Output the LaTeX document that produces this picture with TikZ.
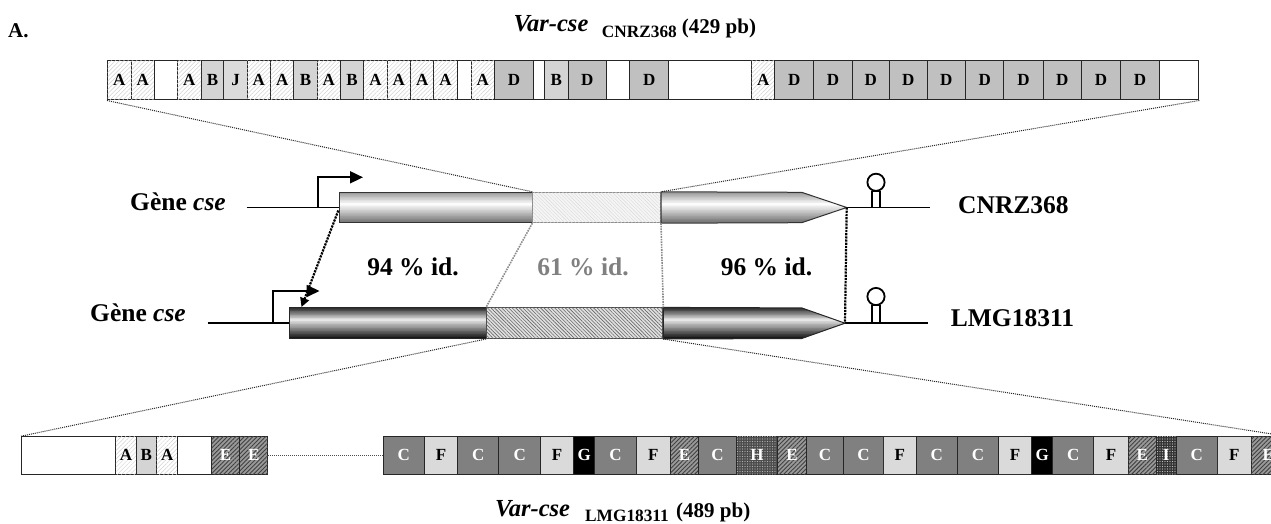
\documentclass[tikz,border=0pt]{standalone}
\usepackage{fontspec}
\setmainfont{Liberation Serif}
\usetikzlibrary{patterns.meta,arrows.meta}
\definecolor{cD}{HTML}{C0C0C0}
\definecolor{cC}{HTML}{808080}
\newcommand\gstrips[7]{%
 \foreach \k in {0,...,39}{%
  \pgfmathsetmacro\gt{(\k+0.5)/40}%
  \pgfmathsetmacro\gv{\gt<0.4 ? #5+(#6-#5)*\gt/0.4 : #6+(#7-#6)*(\gt-0.4)/0.6}%
  \pgfmathsetmacro\gya{#3+(#4-#3)*\k/40-0.25}%
  \pgfmathsetmacro\gyb{#3+(#4-#3)*(\k+1)/40+0.25}%
  \fill[black!\gv] (#1,\gya) rectangle (#2,\gyb);}}
\tikzset{
  cell/.style={draw=black!85, line width=1pt, inner sep=0pt, anchor=west, font=\fontsize{17}{20}\selectfont\bfseries},
  cW/.style={fill=white},
  cA/.style={fill=white, postaction={pattern={Lines[angle=45,distance=3pt,line width=.5pt]}, pattern color=black!18}},
  cB/.style={fill=black!14, postaction={pattern={Dots[distance=2pt,radius=.45pt]}, pattern color=black!45}},
  cJ/.style={fill=black!12, postaction={pattern={Dots[distance=2pt,radius=.4pt]}, pattern color=black!35}},
  cDD/.style={fill=cD},
  cCC/.style={fill=cC, text=white},
  cF/.style={fill=black!12, postaction={pattern={Dots[distance=2pt,radius=.45pt]}, pattern color=black!40}},
  cG/.style={fill=black, text=white},
  cE/.style={fill=black!40, text=white, postaction={pattern={Lines[angle=45,distance=3pt,line width=.9pt]}, pattern color=black!75}},
  cH/.style={fill=black!70, text=white, postaction={pattern={Dots[distance=2.5pt,radius=.6pt]}, pattern color=black!30}},
  cI/.style={fill=black!80, text=white, postaction={pattern={Dots[distance=2.5pt,radius=.6pt]}, pattern color=black!25}},
  gline/.style={line width=1.8pt, black},
  topvar/.style={fill=black!4, postaction={pattern={Lines[angle=-45,distance=2.5pt,line width=.4pt]}, pattern color=black!15}},
  botvar/.style={fill=black!12, postaction={pattern={Lines[angle=-45,distance=2.5pt,line width=.6pt]}, pattern color=black!60}},
  zoomdots/.style={densely dotted, line width=1pt, black!85},
  graydots/.style={densely dotted, line width=1.6pt, black!45},
  blackdots/.style={densely dotted, line width=2.2pt, black},
  big/.style={font=\fontsize{25.5}{30}\selectfont\bfseries},
}
\begin{document}
\begin{tikzpicture}[x=1pt,y=-1pt]
\clip (0,0) rectangle (1271,524);
\path[use as bounding box] (0,0) rectangle (1271,524);

% ---------- top bar ----------
\foreach \a/\b/\l/\s [count=\i] in {
 107/130.7/A/cA, 130.7/154/A/cA, 154/176.7//cW, 176.7/200.7/A/cA, 200.7/223.3/B/cB,
 223.3/246.7/J/cJ, 246.7/270/A/cA, 270/293.3/A/cA, 293.3/316.7/B/cB, 316.7/340/A/cA,
 340/363.3/B/cB, 363.3/386.7/A/cA, 386.7/410/A/cA, 410/433.3/A/cA, 433.3/456.7/A/cA,
 456.7/470.7//cW, 470.7/493.7/A/cA, 493.7/533.3/D/cDD, 533.3/544//cW, 544/567.7/B/cB,
 567.7/606/D/cDD, 606/629.3//cW, 629.3/668.3/D/cDD, 668.3/751//cW, 751/774.3/A/cA,
 774.3/813.3/D/cDD, 813.3/851.7/D/cDD, 851.7/889/D/cDD, 889/926.7/D/cDD, 926.7/965/D/cDD,
 965/1003.3/D/cDD, 1003.3/1042.7/D/cDD, 1042.7/1081/D/cDD, 1081/1120/D/cDD, 1120/1159/D/cDD,
 1159/1198.3//cW}
 {\node[cell,\s, minimum width={(\b-\a)*1pt}, minimum height=39.3pt] (t\i) at (\a,80.35) {\l};}

% ---------- bottom bar ----------
\foreach \a/\b/\l/\s [count=\i] in {
 21/115.3//cW, 115.3/135.7/A/cA, 135.7/156/B/cB, 156/177.3/A/cA, 177.3/211//cW,
 211/239.3/E/cE, 239.3/267.3/E/cE,
 382.7/424/C/cCC, 424/457.3/F/cF, 457.3/498.3/C/cCC, 498.3/540/C/cCC, 540/573.3/F/cF,
 573.3/594.3/G/cG, 594.3/635.7/C/cCC, 635.7/670/F/cF, 670/698.3/E/cE, 698.3/735.7/C/cCC,
 735.7/777.3/H/cH, 777.3/805.7/E/cE, 805.7/843.3/C/cCC, 843.3/882.7/C/cCC, 882.7/916/F/cF,
 916/956.7/C/cCC, 956.7/998.3/C/cCC, 998.3/1031/F/cF, 1031/1052.3/G/cG, 1052.3/1093.3/C/cCC,
 1093.3/1127.7/F/cF, 1127.7/1155.7/E/cE, 1155.7/1175.7/I/cI, 1175.7/1216.7/C/cCC,
 1216.7/1250.7/F/cF, 1250.7/1285/E/cE}
 {\node[cell,\s, minimum width={(\b-\a)*1pt}, minimum height=37.3pt] (b\i) at (\a,455.35) {\l};}
\draw[densely dotted, line width=1pt, black!70] (b7.east) -- (b8.west);

% ---------- top gene (CNRZ368) ----------
\coordinate (tl) at (246.7,207.5);
\coordinate (tr) at (930,207.5);
\coordinate (ttip) at (846.7,207.5);
\draw[gline] (tl) -- (339.3,207.5);
\draw[gline] (ttip) -- (tr);
\draw[gline, -{Triangle[length=13pt,width=12pt]}] (317.7,207.5) -- (317.7,177.3) -- (363,177.3);
\gstrips{339.3}{532.3}{192.3}{222.7}{42}{0}{55}
\node[draw=black!80, line width=1pt, inner sep=0pt, anchor=west, minimum width=193pt, minimum height=30.4pt] (tb) at (339.3,207.5) {};
\node[draw=black!45, line width=1pt, topvar, inner sep=0pt, anchor=west, minimum width=127.7pt, minimum height=30.4pt] (tv) at (532.3,207.5) {};
\begin{scope}
 \clip (tv.north east) -- (801.7,192.3) -- (ttip) -- (801.7,222.7) -- (tv.south east) -- cycle;
 \gstrips{659}{848}{192.3}{222.7}{42}{0}{55}
\end{scope}
\draw[draw=black!80, line width=1pt] (tv.north east) -- (801.7,192.3) -- (ttip) -- (801.7,222.7) -- (tv.south east) -- cycle;
\draw[gline] (872,207.5) -- (872,191.5) -- (880,191.5) -- (880,207.5);
\draw[gline, fill=white] (876,182.3) circle (8.6);

% ---------- bottom gene (LMG18311) ----------
\coordinate (bl) at (207.7,323.2);
\coordinate (br) at (928,323.2);
\coordinate (btip) at (845,323.2);
\draw[gline] (bl) -- (289.3,323.2);
\draw[gline] (btip) -- (br);
\draw[gline, -{Triangle[length=13pt,width=12pt]}] (272.7,323.2) -- (272.7,291) -- (319.5,291);
\gstrips{289.3}{486}{307.9}{338.5}{88}{8}{92}
\node[draw=black!85, line width=1pt, inner sep=0pt, anchor=west, minimum width=196.7pt, minimum height=30.6pt] (bb) at (289.3,323.2) {};
\node[draw=black!70, line width=1pt, botvar, inner sep=0pt, anchor=west, minimum width=176.3pt, minimum height=30.6pt] (bv) at (486,323.2) {};
\begin{scope}
 \clip (bv.north east) -- (801.7,307.9) -- (btip) -- (801.7,338.5) -- (bv.south east) -- cycle;
 \gstrips{661}{846}{307.9}{338.5}{88}{8}{92}
\end{scope}
\draw[draw=black!85, line width=1pt] (bv.north east) -- (801.7,307.9) -- (btip) -- (801.7,338.5) -- (bv.south east) -- cycle;
\draw[gline] (872,323.2) -- (872,305.5) -- (880,305.5) -- (880,323.2);
\draw[gline, fill=white] (876,296.5) circle (8.6);

% ---------- zoom connectors ----------
\draw[zoomdots] (t1.south west) -- (tv.north west);
\draw[zoomdots] (t36.south east) -- (tv.north east);
\draw[zoomdots] (bv.south west) -- (b1.north west);
\draw[zoomdots] (bv.south east) -- (b33.north east);

% ---------- alignment connectors ----------
\coordinate (as) at (338.3,210.5);
\coordinate (ae) at (301.5,307);
\draw[blackdots, -{Triangle[length=9pt,width=9pt]}] (as) -- (ae);
\draw[graydots] (tv.south west) -- (bv.north west);
\draw[graydots] (tv.south east) -- (bv.north east);
\draw[blackdots] (ttip) -- (btip);

% ---------- labels ----------
\node[big, anchor=center] (p94) at (413,267) {94 \% id.};
\node[big, anchor=center, text=black!50] (p61) at (583,267) {61 \% id.};
\node[big, anchor=center] (p96) at (766.5,267) {96 \% id.};
\node[big, anchor=base west, inner sep=0pt] (g1) at (130,210.7) {Gène \textit{cse}};
\node[big, anchor=base west, inner sep=0pt] (g2) at (90,321.7) {Gène \textit{cse}};
\node[big, anchor=base west, inner sep=0pt] (s1) at (958,213.3) {CNRZ368};
\node[big, anchor=base west, inner sep=0pt] (s2) at (950.7,326.7) {LMG18311};
\node[anchor=base west, inner sep=0pt, font=\fontsize{21}{24}\selectfont\bfseries] (lA) at (8,38) {A.};
% top title
\node[anchor=base west, inner sep=0pt, font=\fontsize{24.5}{28}\selectfont\bfseries\itshape] (tt1) at (513.3,31.7) {Var-cse};
\node[anchor=base west, inner sep=0pt, font=\fontsize{17.3}{20}\selectfont\bfseries] (tt2) at (601.7,37.3) {CNRZ368};
\node[anchor=base west, inner sep=0pt, font=\fontsize{21}{24}\selectfont\bfseries] (tt3) at (681.7,33.5) {(429 pb)};
% bottom title
\node[anchor=base west, inner sep=0pt, font=\fontsize{24.5}{28}\selectfont\bfseries\itshape] (bt1) at (495,516) {Var-cse};
\node[anchor=base west, inner sep=0pt, font=\fontsize{17.3}{20}\selectfont\bfseries] (bt2) at (585,521.5) {LMG18311};
\node[anchor=base west, inner sep=0pt, font=\fontsize{21}{24}\selectfont\bfseries] (bt3) at (676,517.8) {(489 pb)};
\end{tikzpicture}
\end{document}
